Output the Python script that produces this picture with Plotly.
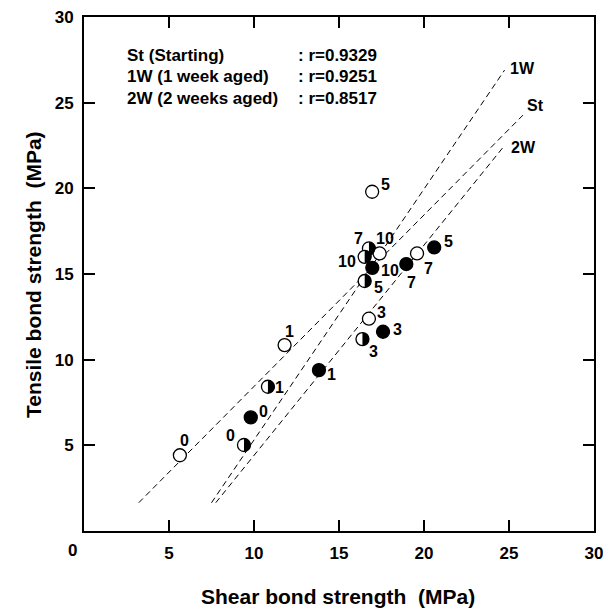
import plotly.graph_objects as go

# ---- data ----
ages = ["0", "1", "3", "5", "7", "10"]

st_x = [5.64, 11.8, 16.76, 16.95, 19.59, 17.39]
st_y = [4.42, 10.85, 12.39, 19.8, 16.2, 16.2]

w1_x = [9.41, 10.82, 16.38, 16.51, 16.76, 16.51]
w1_y = [5.02, 8.42, 11.2, 14.59, 16.49, 16.0]

w2_x = [9.81, 13.82, 17.59, 20.6, 18.96, 16.96]
w2_y = [6.63, 9.39, 11.63, 16.55, 15.58, 15.36]

st_line_x = [3.22, 25.82]
st_line_y = [1.65, 24.27]
w1_line_x = [7.5, 24.74]
w1_line_y = [1.65, 26.9]
w2_line_x = [7.75, 24.65]
w2_line_y = [1.65, 22.39]

line_names = ["St", "1W", "2W"]
legend_names = ["St (Starting)", "1W (1 week aged)", "2W (2 weeks aged)"]
legend_r = [": r=0.9329", ": r=0.9251", ": r=0.8517"]

x_ticks = [5, 10, 15, 20, 25, 30]
y_ticks = [5, 10, 15, 20, 25, 30]

# ---- style ----
FONT = "Liberation Sans, Arial, Helvetica, sans-serif"
MS = 13
R = MS / 2

# label offsets in pixels (dx right, dy down)
st_off = [(5, -15), (5, -14), (13, -6), (13, -7), (11, 15), (5, -15)]
w1_off = [(-13, -9), (12, 1), (11, 12), (14, 6), (-10, -10), (-18, 5)]
w2_off = [(13, -6), (13, 4), (14, -2), (14, -6), (5, 18), (18, 3)]

fig = go.Figure()

dash = "6px,4px"
for lx, ly in [(st_line_x, st_line_y), (w1_line_x, w1_line_y), (w2_line_x, w2_line_y)]:
    fig.add_trace(go.Scatter(x=lx, y=ly, mode="lines",
                             line=dict(color="black", width=1, dash=dash),
                             hoverinfo="skip", showlegend=False))

# half-filled (1W): white circle, right half drawn black by shapes
fig.add_trace(go.Scatter(x=w1_x, y=w1_y, mode="markers",
                         marker=dict(symbol="circle", size=MS, color="white",
                                     line=dict(color="black", width=1.3)),
                         showlegend=False))
# open (St)
fig.add_trace(go.Scatter(x=st_x, y=st_y, mode="markers",
                         marker=dict(symbol="circle", size=MS, color="white",
                                     line=dict(color="black", width=1.3)),
                         showlegend=False))
# filled (2W)
fig.add_trace(go.Scatter(x=w2_x, y=w2_y, mode="markers",
                         marker=dict(symbol="circle", size=MS, color="black",
                                     line=dict(color="black", width=1.3)),
                         showlegend=False))

k = 0.5523 * R
half_path = (f"M0,{-R} C{k},{-R} {R},{-k} {R},0 "
             f"C{R},{k} {k},{R} 0,{R} Z")
shapes = []
for x, y in zip(w1_x, w1_y):
    shapes.append(dict(type="path", xref="x", yref="y",
                       xsizemode="pixel", ysizemode="pixel",
                       xanchor=x, yanchor=y, path=half_path,
                       fillcolor="black", line=dict(width=0), layer="above"))

annos = []
lab_font = dict(family=FONT, size=16, color="black", weight="bold")
for xs, ys, offs in [(st_x, st_y, st_off), (w1_x, w1_y, w1_off), (w2_x, w2_y, w2_off)]:
    for x, y, t, (dx, dy) in zip(xs, ys, ages, offs):
        annos.append(dict(x=x, y=y, text=t, showarrow=False, font=lab_font,
                          xshift=dx, yshift=-dy, xanchor="center", yanchor="middle"))

# line end labels
name_font = dict(family=FONT, size=16, color="black", weight="bold")
for (lx, ly), name, (dx, dy) in zip(
        [(st_line_x, st_line_y), (w1_line_x, w1_line_y), (w2_line_x, w2_line_y)],
        line_names, [(13, -10), (18, -2), (20, 0)]):
    annos.append(dict(x=lx[1], y=ly[1], text=name, showarrow=False, font=name_font,
                      xshift=dx, yshift=-dy, xanchor="center", yanchor="middle"))

# legend text block
leg_font = dict(family=FONT, size=17, color="black", weight="bold")
leg_y = [27.77, 26.51, 25.26]
for n, r, yy in zip(legend_names, legend_r, leg_y):
    annos.append(dict(x=2.39, y=yy, text=n, showarrow=False, font=leg_font,
                      xanchor="left", yanchor="middle"))
    annos.append(dict(x=12.49, y=yy, text=r, showarrow=False, font=leg_font,
                      xanchor="left", yanchor="middle"))

# origin label and axis titles
tick_font = dict(family=FONT, size=17, color="black", weight="bold")
annos.append(dict(x=0, y=0, text="0", showarrow=False, font=tick_font,
                  xshift=-12, yshift=-19, xanchor="center", yanchor="middle"))
title_font = dict(family=FONT, size=21, color="black", weight="bold")
annos.append(dict(xref="paper", yref="paper", x=0.498, y=-0.128,
                  text="Shear bond strength\u00a0 (MPa)", showarrow=False,
                  font=title_font, xanchor="center", yanchor="middle"))
annos.append(dict(xref="paper", yref="paper", x=-0.1, y=0.498,
                  text="Tensile bond strength\u00a0 (MPa)", showarrow=False,
                  font=title_font, textangle=-90, xanchor="center", yanchor="middle"))

axis_common = dict(showline=True, linecolor="black", linewidth=2, mirror="ticks",
                   ticks="inside", ticklen=11, tickwidth=1.5, tickcolor="black",
                   showgrid=False, zeroline=False, tickfont=tick_font,
                   ticklabeloverflow="allow")

# page body has an 8px margin, so the figure is a little smaller than the window
fig.update_layout(
    width=603, height=603,
    margin=dict(l=76, r=17, t=9, b=80, autoexpand=False),
    paper_bgcolor="white", plot_bgcolor="white",
    xaxis=dict(range=[0, 30], tickvals=x_ticks, ticklabelstandoff=6, **axis_common),
    yaxis=dict(range=[0, 30], tickvals=y_ticks, ticklabelstandoff=5, **axis_common),
    shapes=shapes, annotations=annos, showlegend=False,
)

fig.write_html("out.html")
